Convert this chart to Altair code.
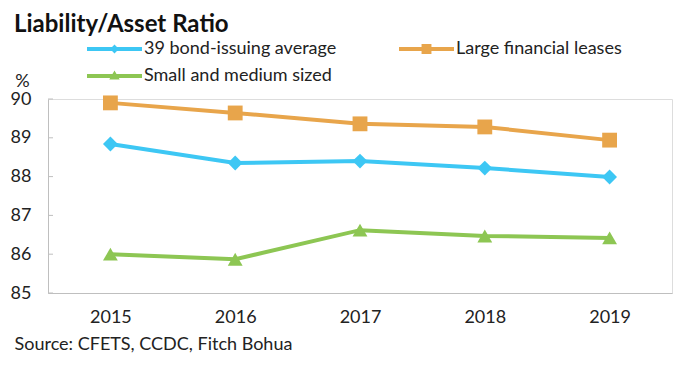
import altair as alt
import pandas as pd

years = ["2015", "2016", "2017", "2018", "2019"]
series_names = ["39 bond-issuing average", "Large financial leases", "Small and medium sized"]
bond_avg = [88.84, 88.35, 88.40, 88.22, 87.99]
large_fin = [89.90, 89.64, 89.36, 89.28, 88.94]
small_med = [86.00, 85.87, 86.62, 86.47, 86.42]
colors = ["#3DC7F4", "#E8A54B", "#8DC653"]
shapes = ["diamond", "square", "triangle-up"]
y_ticks = [85, 86, 87, 88, 89, 90]

# legend is laid out column-major: this order gives rows (bond, large) / (small)
legend_order = ["39 bond-issuing average", "Small and medium sized", "Large financial leases"]
legend_colors = ["#3DC7F4", "#8DC653", "#E8A54B"]
legend_paths = [
    "M-1,-0.073H1V0.073H-1Z M-0.16,0L0,-0.16L0.16,0L0,0.16Z",
    "M-1,-0.073H1V0.073H-1Z M0,-0.2L0.19,0.13L-0.19,0.13Z",
    "M-1,-0.073H1V0.073H-1Z M-0.18,-0.18H0.18V0.18H-0.18Z",
]

rows = []
for name, vals in zip(series_names, [bond_avg, large_fin, small_med]):
    for y, v in zip(years, vals):
        rows.append({"year": y, "value": v, "series": name})
df = pd.DataFrame(rows)
ticks_df = pd.DataFrame({"value": y_ticks})

FONT = "Lato"
TXT = "#222222"
AXC = "#BFBFBF"

x_enc = alt.X(
    "year:N", sort=years,
    scale=alt.Scale(type="point", padding=0.5),
    axis=alt.Axis(
        labelAngle=0, ticks=False, domainColor=AXC, domainWidth=1,
        labelFontSize=18, labelFont=FONT, labelColor=TXT, labelPadding=15,
        title="Source: CFETS, CCDC, Fitch Bohua", titleFont=FONT, titleFontSize=18,
        titleFontWeight="normal", titleColor=TXT, titleAnchor="start",
        titleAlign="left", titleBaseline="middle", titleX=-34, titleY=51,
    ),
)
y_scale = alt.Scale(domain=[85, 90], nice=False, zero=False)
y_axis = alt.Axis(
    values=y_ticks, grid=False, domainColor=AXC, ticks=False,
    labelFontSize=18, labelFont=FONT, labelColor=TXT, labelPadding=17,
    title="%", titleAngle=0, titleFont=FONT, titleFontSize=18,
    titleFontWeight="normal", titleColor=TXT, titleAlign="center",
    titleBaseline="middle", titleX=-26, titleY=-18,
)
y_enc = alt.Y("value:Q", scale=y_scale, axis=y_axis)

color_scale = alt.Scale(domain=series_names, range=colors)

lines = alt.Chart(df).mark_line(strokeWidth=4).encode(
    x=x_enc, y=y_enc,
    color=alt.Color("series:N", scale=color_scale, legend=None),
)
points = alt.Chart(df).mark_point(filled=True, opacity=1).encode(
    x=x_enc, y=y_enc,
    color=alt.Color("series:N", scale=color_scale, legend=None),
    shape=alt.Shape("series:N", scale=alt.Scale(domain=series_names, range=shapes), legend=None),
    size=alt.value(220),
)
legend_kw = dict(
    orient="none", legendX=39, legendY=-60, columns=2, title=None,
    labelFont=FONT, labelFontSize=18, labelColor=TXT, labelOffset=2,
    symbolSize=3025, symbolStrokeWidth=0, symbolOpacity=1, clipHeight=20,
    columnPadding=62, rowPadding=7, labelLimit=400,
)
legend_layer = alt.Chart(df).mark_point(filled=True, opacity=0).encode(
    x=x_enc, y=y_enc,
    color=alt.Color("series:N", scale=alt.Scale(domain=legend_order, range=legend_colors),
                    legend=alt.Legend(**legend_kw)),
    shape=alt.Shape("series:N", scale=alt.Scale(domain=legend_order, range=legend_paths),
                    legend=alt.Legend(**legend_kw)),
)
tick_marks = alt.Chart(ticks_df).mark_rule(color=AXC, strokeWidth=1).encode(
    y=y_enc, x=alt.value(0), x2=alt.value(5),
)

chart = alt.layer(lines, points, legend_layer, tick_marks).resolve_scale(
    color="independent", shape="independent"
).properties(
    width=624, height=194,
    autosize=alt.AutoSizeParams(type="none"),
    padding={"left": 40, "top": 91, "right": 4, "bottom": 66},
    title=alt.TitleParams(
        "Liability/Asset Ratio", anchor="start", frame="group", font=FONT, fontSize=24,
        fontWeight="bold", color="#111111", dx=-34, dy=2,
    ),
).configure_view(stroke=None).configure(background="white")

chart.save("out.html", embed_options={"renderer": "svg", "actions": False})
